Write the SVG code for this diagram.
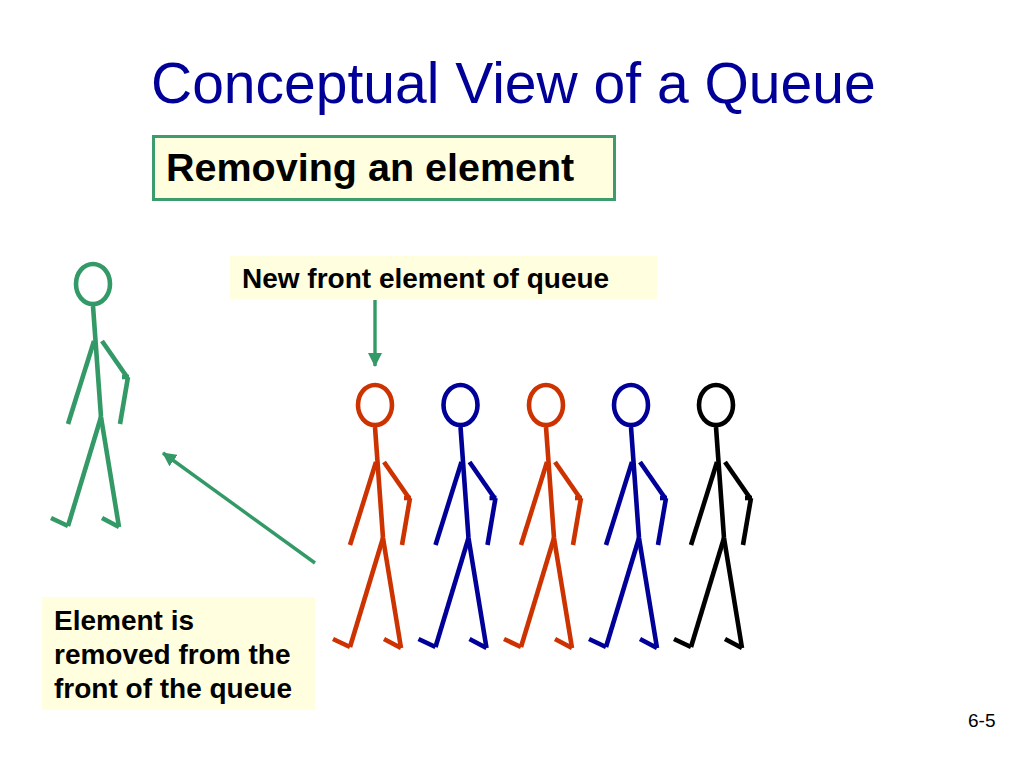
<svg xmlns="http://www.w3.org/2000/svg" width="1024" height="768" viewBox="0 0 1024 768">
  <style>
    .title { font-family: "Liberation Sans", Arial, sans-serif; font-size: 57px; fill: #000099; }
    .lbl { font-family: "Liberation Sans", Arial, sans-serif; font-weight: bold; fill: #000000; }
    .box { fill: #ffffdf; }
    .fig { fill: none; stroke: currentColor; stroke-width: 4.6; stroke-linecap: butt; stroke-linejoin: miter; }
    .conn { stroke: #339966; stroke-width: 3.4; fill: none; }
    .pg { font-family: "Liberation Sans", Arial, sans-serif; font-size: 19px; fill: #000000; }
  </style>
  <defs>
    <marker id="arr" markerUnits="userSpaceOnUse" markerWidth="14" markerHeight="14" viewBox="0 0 14 14" refX="13" refY="7" orient="auto">
      <path d="M0,0 L14,7 L0,14 Z" fill="#339966"/>
    </marker>
    <g id="stick" class="fig">
      <ellipse cx="0" cy="0" rx="17" ry="20"/>
      <polyline points="0,22 8,133 26,243"/>
      <line x1="8" y1="133" x2="-25" y2="242"/>
      <line x1="-25" y1="242" x2="-42" y2="234"/>
      <line x1="9" y1="234" x2="26" y2="243"/>
      <line x1="1" y1="57" x2="-25" y2="140"/>
      <line x1="9" y1="57" x2="34" y2="93"/>
      <line x1="29" y1="93" x2="36" y2="93"/>
      <line x1="35" y1="93" x2="27" y2="140"/>
    </g>
  </defs>
  <rect width="1024" height="768" fill="#ffffff"/>

  <text class="title" x="151" y="103">Conceptual View of a Queue</text>

  <g id="heading">
    <rect class="box" x="153.5" y="136.5" width="461" height="63" stroke="#3c9c6c" stroke-width="3"/>
    <text class="lbl" x="166" y="181" font-size="39.5">Removing an element</text>
  </g>

  <g id="label-new-front">
    <rect class="box" x="230" y="256" width="427" height="43"/>
    <text class="lbl" x="242" y="288" font-size="28">New front element of queue</text>
  </g>

  <g id="label-removed">
    <rect class="box" x="42" y="597" width="273" height="113"/>
    <text class="lbl" font-size="28">
      <tspan x="54" y="630">Element is</tspan>
      <tspan x="54" y="664">removed from the</tspan>
      <tspan x="54" y="698">front of the queue</tspan>
    </text>
  </g>

  <g id="person-removed" style="color:#339966">
    <use href="#stick" transform="translate(93,284)"/>
  </g>
  <g id="person-1" style="color:#cc3300">
    <use href="#stick" transform="translate(375,405)"/>
  </g>
  <g id="person-2" style="color:#000099">
    <use href="#stick" transform="translate(460.5,405)"/>
  </g>
  <g id="person-3" style="color:#cc3300">
    <use href="#stick" transform="translate(546,405)"/>
  </g>
  <g id="person-4" style="color:#000099">
    <use href="#stick" transform="translate(631,405)"/>
  </g>
  <g id="person-5" style="color:#000000">
    <use href="#stick" transform="translate(716,405)"/>
  </g>

  <g id="connectors">
    <line class="conn" x1="375" y1="300" x2="375" y2="366" marker-end="url(#arr)"/>
    <line class="conn" x1="315" y1="563" x2="163" y2="453" marker-end="url(#arr)"/>
  </g>

  <text class="pg" x="968" y="727">6-5</text>
</svg>
